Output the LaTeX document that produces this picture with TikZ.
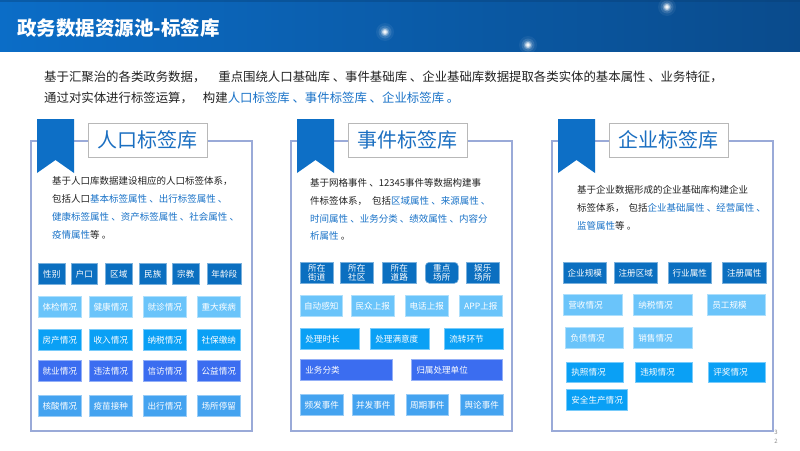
\documentclass[tikz,border=0pt]{standalone}
\usepackage{fontspec}
\setmainfont{Noto Sans CJK SC}
\definecolor{hdrL}{HTML}{0B6DC7}
\definecolor{hdrR}{HTML}{0A4B8C}
\definecolor{ink}{HTML}{222222}
\definecolor{lnk}{HTML}{1A73C8}
\definecolor{frameC}{HTML}{9AAAD8}
\definecolor{ribbonC}{HTML}{0D6FC6}
\definecolor{ttlC}{HTML}{1B6FC1}
\definecolor{tDark}{HTML}{0B6FC0}
\definecolor{tLight}{HTML}{6AC4FA}
\definecolor{tMid}{HTML}{0AA0F5}
\definecolor{tRoyal}{HTML}{3B6DF0}
\definecolor{tSky}{HTML}{44A3F0}
\tikzset{
  tagbase/.style={inner ysep=0pt, inner xsep=0pt, text=white, font=\fontsize{8.6}{10}\selectfont, line width=0.6pt},
  tdark/.style={tagbase, fill=tDark, draw=tDark!55!white},
  tlight/.style={tagbase, fill=tLight, draw=tLight!55!white},
  tmid/.style={tagbase, fill=tMid, draw=tMid!55!white},
  troyal/.style={tagbase, fill=tRoyal, draw=tRoyal!55!white},
  tsky/.style={tagbase, fill=tSky, draw=tSky!55!white},
  twoline/.style={align=center, font=\fontsize{8.6}{9.4}\selectfont},
  cardframe/.style={draw=frameC, line width=1.1pt},
  ribbon/.style={fill=ribbonC},
  titlebox/.style={draw=black!28, line width=0.8pt, fill=white, minimum width=119pt, minimum height=34pt, inner sep=0pt, text=ttlC, font=\fontsize{20}{22}\selectfont},
  desc/.style={anchor=base west, inner sep=0pt, text=ink, font=\fontsize{9.5}{11}\selectfont},
  intro/.style={anchor=base west, inner sep=0pt, text=ink, font=\fontsize{12.4}{14}\selectfont},
  pgnum/.style={inner sep=0pt, text=black!45, font=\fontsize{6}{7}\selectfont}
}
\newcommand\tagat[7]{\pgfmathsetmacro\tgW{#5-#3}\pgfmathsetmacro\tgH{#6-#4}%
  \node[#1,anchor=north west,minimum width=\tgW pt,minimum height=\tgH pt] (#2) at (#3,#4) {#7};}
\newcommand\tagleft[7]{\pgfmathsetmacro\tgT{#5-#3-10}\pgfmathsetmacro\tgH{#6-#4}%
  \node[#1,anchor=north west,inner xsep=5pt,text width=\tgT pt,align=left,minimum height=\tgH pt] (#2) at (#3,#4) {#7};}
\newcommand\lk[1]{\textcolor{lnk}{#1}}
\begin{document}
\begin{tikzpicture}[x=1pt,y=-1pt]
\useasboundingbox (0,0) rectangle (800,450);
\fill[white] (0,0) rectangle (800,450);
% header
\shade[left color=hdrL, right color=hdrR] (0,0) rectangle (800,51);
\fill[hdrR!80!black, opacity=0.35] (0,0) rectangle (800,1.5);
\foreach \cx/\cy in {385/32, 528/45, 667/7}{
  \foreach \r/\o in {9/0.06, 6.5/0.12, 4.5/0.25, 3/0.5, 1.8/0.85}{
    \fill[white, opacity=\o] (\cx,\cy) circle (\r pt);
  }
}
\node[anchor=base west, inner sep=0pt, text=white, font=\fontsize{19.5}{22}\selectfont\bfseries] (title) at (17,35) {政务数据资源池-标签库};
% intro
\node[intro] (intro1) at (44,81.5) {基于汇聚治的各类政务数据，\hspace{13pt}重点围绕人口基础库 、事件基础库 、企业基础库数据提取各类实体的基本属性 、业务特征，};
\node[intro] (intro2) at (44,102.5) {通过对实体进行标签运算，\hspace{10pt}构建\lk{人口标签库 、事件标签库 、企业标签库 。}};
% card frames
\draw[cardframe] (31,141) rectangle (252,431);
\draw[cardframe] (291,141) rectangle (512,431);
\draw[cardframe] (552,141) rectangle (773,431);
% ribbons
\fill[ribbon] (37,119) -- (74,119) -- (74,173) -- (55.5,160) -- (37,173) -- cycle;
\fill[ribbon] (297,119) -- (334,119) -- (334,173) -- (315.5,160) -- (297,173) -- cycle;
\fill[ribbon] (558,119) -- (595,119) -- (595,173) -- (576.5,160) -- (558,173) -- cycle;
% title boxes
\node[titlebox] (t1) at (147.5,140) {人口标签库};
\node[titlebox] (t2) at (407.5,140) {事件标签库};
\node[titlebox] (t3) at (668.5,140) {企业标签库};
% descriptions
\node[desc] (d1a) at (52,184.5) {基于人口库数据建设相应的人口标签体系，};
\node[desc] (d1b) at (52,202.5) {包括人口\lk{基本标签属性 、出行标签属性 、}};
\node[desc] (d1c) at (52,220.5) {\lk{健康标签属性 、资产标签属性 、社会属性 、}};
\node[desc] (d1d) at (52,238.5) {\lk{疫情属性}等 。};
\node[desc] (d2a) at (310,186.5) {基于网格事件 、12345事件等数据构建事};
\node[desc] (d2b) at (310,204.3) {件标签体系，\hspace{5pt}包括\lk{区域属性 、来源属性 、}};
\node[desc] (d2c) at (310,222.1) {\lk{时间属性 、业务分类 、绩效属性 、内容分}};
\node[desc] (d2d) at (310,239.9) {\lk{析属性} 。};
\node[desc] (d3a) at (577,193.5) {基于企业数据形成的企业基础库构建企业};
\node[desc] (d3b) at (577,211.5) {标签体系，\hspace{4pt}包括\lk{企业基础属性 、经营属性 、}};
\node[desc] (d3c) at (577,229.5) {\lk{监管属性}等 。};
% card 1 tags
\tagat{tdark}{a11}{38}{263}{65}{284}{性别}
\tagat{tdark}{a12}{71}{263}{97}{284}{户口}
\tagat{tdark}{a13}{105}{263}{132}{284}{区域}
\tagat{tdark}{a14}{139}{263}{166}{284}{民族}
\tagat{tdark}{a15}{172}{263}{199}{284}{宗教}
\tagat{tdark}{a16}{207}{263}{241}{284}{年龄段}
\tagat{tlight}{a21}{38}{296}{81}{317}{体检情况}
\tagat{tlight}{a22}{89}{296}{132}{317}{健康情况}
\tagat{tlight}{a23}{143}{296}{186}{317}{就诊情况}
\tagat{tlight}{a24}{197}{296}{240}{317}{重大疾病}
\tagat{tmid}{a31}{38}{329}{81}{350}{房产情况}
\tagat{tmid}{a32}{89}{329}{132}{350}{收入情况}
\tagat{tmid}{a33}{143}{329}{186}{350}{纳税情况}
\tagat{tmid}{a34}{197}{329}{240}{350}{社保缴纳}
\tagat{troyal}{a41}{38}{360}{81}{381}{就业情况}
\tagat{troyal}{a42}{89}{360}{132}{381}{违法情况}
\tagat{troyal}{a43}{143}{360}{186}{381}{信访情况}
\tagat{troyal}{a44}{197}{360}{240}{381}{公益情况}
\tagat{tsky}{a51}{38}{395}{81}{416}{核酸情况}
\tagat{tsky}{a52}{89}{395}{132}{416}{疫苗接种}
\tagat{tsky}{a53}{143}{395}{186}{416}{出行情况}
\tagat{tsky}{a54}{197}{395}{240}{416}{场所停留}
% card 2 tags
\tagat{tdark,twoline}{b11}{300}{262}{333}{283}{所在\\街道}
\tagat{tdark,twoline}{b12}{340}{262}{373}{283}{所在\\社区}
\tagat{tdark,twoline}{b13}{382}{262}{416}{283}{所在\\道路}
\tagat{tdark,twoline,rounded corners=4pt}{b14}{425}{262}{458}{283}{重点\\场所}
\tagat{tdark,twoline}{b15}{466}{262}{499}{283}{娱乐\\场所}
\tagat{tlight}{b21}{300}{295}{342}{316}{自动感知}
\tagat{tlight}{b22}{351}{295}{394}{316}{民众上报}
\tagat{tlight}{b23}{405}{295}{448}{316}{电话上报}
\tagat{tlight}{b24}{459}{295}{502}{316}{APP上报}
\tagleft{tmid}{b31}{300}{328}{359}{349}{处理时长}
\tagleft{tmid}{b32}{370}{328}{429}{349}{处理满意度}
\tagleft{tmid}{b33}{444}{328}{503}{349}{流转环节}
\tagleft{troyal}{b41}{300}{359}{392}{380}{业务分类}
\tagleft{troyal}{b42}{411}{359}{502}{380}{归属处理单位}
\tagat{tsky}{b51}{300}{394}{343}{415}{频发事件}
\tagat{tsky}{b52}{352}{394}{394}{415}{并发事件}
\tagat{tsky}{b53}{406}{394}{448}{415}{周期事件}
\tagat{tsky}{b54}{460}{394}{503}{415}{舆论事件}
% card 3 tags
\tagat{tdark}{c11}{563}{262}{606}{283}{企业规模}
\tagat{tdark}{c12}{614}{262}{657}{283}{注册区域}
\tagat{tdark}{c13}{668}{262}{711}{283}{行业属性}
\tagat{tdark}{c14}{722}{262}{766}{283}{注册属性}
\tagleft{tlight}{c21}{563}{294}{622}{315}{营收情况}
\tagleft{tlight}{c22}{633}{294}{692}{315}{纳税情况}
\tagleft{tlight}{c23}{707}{294}{765}{315}{员工规模}
\tagleft{tlight}{c31}{565}{327}{623}{348}{负债情况}
\tagleft{tlight}{c32}{633}{327}{692}{348}{销售情况}
\tagleft{tmid}{c41}{566}{362}{623}{382}{执照情况}
\tagleft{tmid}{c42}{635}{362}{692}{382}{违规情况}
\tagleft{tmid}{c43}{708}{362}{765}{382}{评奖情况}
\tagleft{tmid}{c51}{566}{389}{627}{410}{安全生产情况}
% page number
\node[pgnum] (pg3) at (776,432) {3};
\node[pgnum] (pg2) at (776,441) {2};
\end{tikzpicture}
\end{document}
